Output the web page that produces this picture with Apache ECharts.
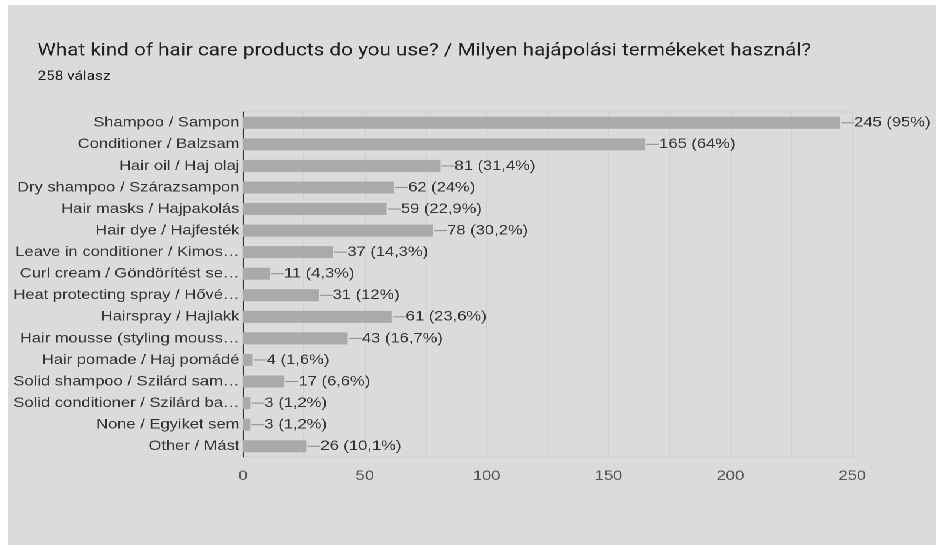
<!DOCTYPE html>
<html>
<head>
<meta charset="utf-8">
<script src="https://cdn.jsdelivr.net/npm/echarts@6/dist/echarts.min.js"></script>
<style>
  html, body { margin: 0; padding: 0; background: #ffffff; width: 936px; height: 545px; overflow: hidden; }
  /* The panel is laid out at 786px and widened to 928px on screen */
  #chart {
    position: absolute; left: 8px; top: 5px;
    width: 786px; height: 540px;
    background: #dbdbdb;
    transform: scaleX(1.1807);
    transform-origin: 0 0;
  }
</style>
</head>
<body>
<div id="chart"></div>
<script>
// Survey answers (multiple choice, 258 respondents)
const categories = [
  'Shampoo / Sampon',
  'Conditioner / Balzsam',
  'Hair oil / Haj olaj',
  'Dry shampoo / Szárazsampon',
  'Hair masks / Hajpakolás',
  'Hair dye / Hajfesték',
  'Leave in conditioner / Kimos…',
  'Curl cream / Göndörítést se…',
  'Heat protecting spray / Hővé…',
  'Hairspray / Hajlakk',
  'Hair mousse (styling mouss…',
  'Hair pomade / Haj pomádé',
  'Solid shampoo / Szilárd sam…',
  'Solid conditioner / Szilárd ba…',
  'None / Egyiket sem',
  'Other / Mást'
];
const counts = [245, 165, 81, 62, 59, 78, 37, 11, 31, 61, 43, 4, 17, 3, 3, 26];
const percents = ['95%', '64%', '31,4%', '24%', '22,9%', '30,2%', '14,3%', '4,3%', '12%', '23,6%', '16,7%', '1,6%', '6,6%', '1,2%', '1,2%', '10,1%'];
const xTicks = [0, 50, 100, 150, 200, 250];

// Render at 2x so the widened text stays smooth
const chart = echarts.init(document.getElementById('chart'), null, { renderer: 'canvas', devicePixelRatio: 2 });

chart.setOption({
  backgroundColor: '#dbdbdb',
  animation: false,
  title: {
    text: 'What kind of hair care products do you use? / Milyen hajápolási termékeket használ?',
    subtext: '258 válasz',
    left: 25,
    top: 37,
    padding: 0,
    itemGap: 10,
    textStyle: { fontFamily: 'Roboto', fontSize: 17.5, fontWeight: 'normal', color: '#202124' },
    subtextStyle: { fontFamily: 'Roboto', fontSize: 13, color: '#202124' }
  },
  grid: {
    left: 199,
    right: 71,
    top: 107,
    bottom: 88,
    show: true,
    borderColor: '#cecece',
    borderWidth: 1,
    containLabel: false
  },
  xAxis: {
    type: 'value',
    min: xTicks[0],
    max: xTicks[xTicks.length - 1],
    interval: 50,
    axisLine: { show: false },
    axisTick: { show: false },
    axisLabel: {
      margin: 12,
      fontFamily: 'Liberation Sans, Arial, sans-serif',
      fontSize: 14,
      color: '#555555'
    },
    splitLine: { show: true, lineStyle: { color: '#cecece', width: 1 } },
    minorTick: { show: false, splitNumber: 2 },
    minorSplitLine: { show: true, lineStyle: { color: '#d1d1d1', width: 1 } }
  },
  yAxis: {
    type: 'category',
    data: categories,
    inverse: true,
    axisLine: { show: true, lineStyle: { color: '#333333', width: 1 } },
    axisTick: { show: false },
    splitLine: { show: false },
    axisLabel: {
      margin: 3,
      fontFamily: 'Liberation Sans, Arial, sans-serif',
      fontSize: 14,
      color: '#333333'
    }
  },
  series: [{
    type: 'bar',
    data: counts,
    barWidth: 12,
    itemStyle: { color: '#aaaaaa' },
    label: {
      show: true,
      position: 'right',
      distance: 1,
      formatter: (p) => '{l|}{t|' + p.value + ' (' + percents[p.dataIndex] + ')}',
      rich: {
        l: { width: 11, height: 1, backgroundColor: '#8c8c8c' },
        t: {
          fontFamily: 'Liberation Sans, Arial, sans-serif',
          fontSize: 14,
          color: '#333333'
        }
      }
    }
  }]
});
</script>
</body>
</html>
